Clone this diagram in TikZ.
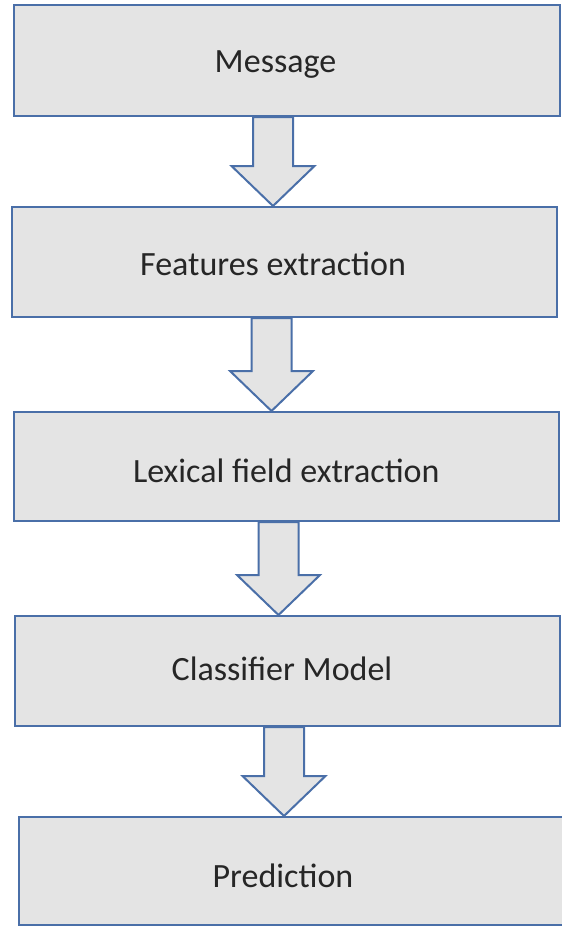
\documentclass[tikz,border=0pt]{standalone}
\usepackage{fontspec}
\setmainfont{Carlito}
\usetikzlibrary{calc}

\definecolor{edgeblue}{HTML}{4A6FA8}
\definecolor{boxgray}{HTML}{E4E4E4}
\definecolor{inkgray}{HTML}{262626}

\tikzset{
  stage/.style={rectangle, draw=edgeblue, fill=boxgray, line width=2pt,
    inner sep=0pt, text height=22pt, text depth=0pt, text=inkgray,
    font=\fontsize{34}{40}\selectfont},
  blockarrow/.style={draw=edgeblue, fill=boxgray, line width=2pt, line join=miter}
}

% hollow block arrow from the bottom of #1 to the top of #2, centred on x = #3
\newcommand\flowarrow[3]{%
  \pgfmathsetmacro\shl{#3-20}\pgfmathsetmacro\shr{#3+20}%
  \pgfmathsetmacro\hdl{#3-41.5}\pgfmathsetmacro\hdr{#3+41.5}%
  \draw[blockarrow]
    (\shl,0 |- #1.south)
    -- ($(\shl,0 |- #2.north)+(0,-40)$)
    -- ($(\hdl,0 |- #2.north)+(0,-40)$)
    -- (#3,0 |- #2.north)
    -- ($(\hdr,0 |- #2.north)+(0,-40)$)
    -- ($(\shr,0 |- #2.north)+(0,-40)$)
    -- (\shr,0 |- #1.south)
    -- cycle;
}

\begin{document}
\begin{tikzpicture}[x=1pt, y=-1pt]
  \useasboundingbox (0,0) rectangle (562,926);

  \node[stage, minimum width=546.4pt, minimum height=111pt] (msg)  at (286.8,60.5)
    {\hspace*{-22.6pt}\raisebox{-0.5pt}{Message}};
  \node[stage, minimum width=545.5pt, minimum height=110pt] (feat) at (284.25,262)
    {\hspace*{-22.5pt}\raisebox{-2pt}{Features extraction}};
  \node[stage, minimum width=545.4pt, minimum height=109pt] (lex)  at (286.3,466.5)
    {\raisebox{-4.5pt}{Lexical field extraction}};
  \node[stage, minimum width=544.6pt, minimum height=110pt] (clf)  at (287.7,671)
    {\hspace*{-11.4pt}\raisebox{2pt}{Classifier Model}};
  \node[stage, minimum width=551.4pt, minimum height=108pt] (pred) at (294.3,871)
    {\hspace*{-22.6pt}\raisebox{-5pt}{Prediction}};

  \flowarrow{msg}{feat}{273}
  \flowarrow{feat}{lex}{271.5}
  \flowarrow{lex}{clf}{278.5}
  \flowarrow{clf}{pred}{284}
\end{tikzpicture}
\end{document}
